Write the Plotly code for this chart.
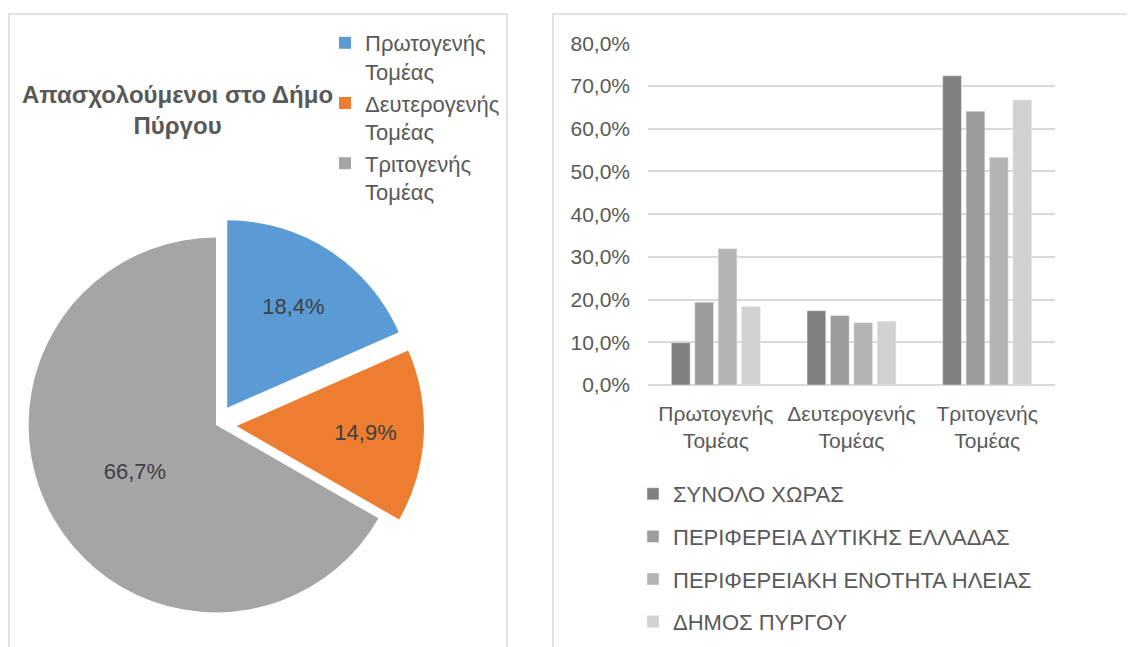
import plotly.graph_objects as go

# data
sectors = ["Πρωτογενής<br>Τομέας", "Δευτερογενής<br>Τομέας", "Τριτογενής<br>Τομέας"]
pyrgos_share = [0.184, 0.149, 0.667]
pie_colors = ["#5b9bd5", "#ed7d31", "#a5a5a5"]

series_names = ["ΣΥΝΟΛΟ ΧΩΡΑΣ", "ΠΕΡΙΦΕΡΕΙΑ ΔΥΤΙΚΗΣ ΕΛΛΑΔΑΣ",
                "ΠΕΡΙΦΕΡΕΙΑΚΗ ΕΝΟΤΗΤΑ ΗΛΕΙΑΣ", "ΔΗΜΟΣ ΠΥΡΓΟΥ"]
country = [0.099, 0.174, 0.724]
west_greece = [0.194, 0.163, 0.641]
ileia = [0.319, 0.146, 0.533]
pyrgos = [0.184, 0.149, 0.667]
bar_colors = ["#808080", "#9c9c9c", "#b4b4b4", "#d2d2d2"]

W, H = 1135, 647
txt = "#595959"
font = "Liberation Sans, Arial, sans-serif"

fig = go.Figure()

# pie: employment by sector in Pyrgos
fig.add_trace(go.Pie(
    labels=sectors,
    values=pyrgos_share,
    marker=dict(colors=pie_colors),
    sort=False,
    direction="clockwise",
    rotation=0,
    pull=[0.11, 0.11, 0],
    texttemplate="%{percent:.1%}",
    textposition="inside",
    insidetextorientation="horizontal",
    textfont=dict(size=22, color="#404040", family=font),
    domain=dict(x=[0.0, 416 / W], y=[0.0, 460 / H]),
    legend="legend",
    hoverinfo="label+percent",
))

# grouped bars: comparison with region / country
for name, vals, col in zip(series_names, [country, west_greece, ileia, pyrgos], bar_colors):
    fig.add_trace(go.Bar(
        x=sectors,
        y=vals,
        name=name,
        marker=dict(color=col),
        legend="legend2",
        legendgroup=name,
    ))

# the page body adds 8px, so everything is placed 8px up/left
fig.update_layout(
    width=W,
    height=H,
    margin=dict(l=0, r=0, t=0, b=0, autoexpand=False),
    paper_bgcolor="white",
    plot_bgcolor="white",
    separators=",.",
    font=dict(family=font, color=txt, size=21),
    barmode="group",
    bargap=0.31,
    bargroupgap=0.2,
    xaxis=dict(
        domain=[640 / W, 1047 / W],
        showgrid=False,
        showline=False,
        ticks="",
        tickfont=dict(size=21, color=txt),
        ticklabelstandoff=14,
    ),
    yaxis=dict(
        domain=[1 - 377 / H, 1 - 35.3 / H],
        range=[0, 0.8],
        dtick=0.1,
        tickformat=".1%",
        gridcolor="#d9d9d9",
        gridwidth=1.5,
        zeroline=True,
        zerolinecolor="#d9d9d9",
        zerolinewidth=1.5,
        ticks="",
        tickfont=dict(size=21, color=txt),
        ticklabelstandoff=17,
    ),
    legend=dict(
        x=317 / W, y=1 - 14 / H,
        xanchor="left", yanchor="top",
        valign="top",
        font=dict(size=22, color=txt),
        bgcolor="rgba(0,0,0,0)",
    ),
    legend2=dict(
        x=625 / W, y=1 - 465 / H,
        xanchor="left", yanchor="top",
        font=dict(size=22, color=txt),
        tracegroupgap=11,
        traceorder="grouped",
        bgcolor="rgba(0,0,0,0)",
    ),
    annotations=[dict(
        text="<b>Απασχολούμενοι στο Δήμο<br>Πύργου</b>",
        x=169 / W, y=1 - 102 / H,
        xref="paper", yref="paper",
        xanchor="center", yanchor="middle",
        showarrow=False,
        font=dict(size=24, color=txt),
        align="center",
    )],
    shapes=[
        dict(type="rect", xref="paper", yref="paper",
             x0=1 / W, x1=499 / W, y0=-0.05, y1=1 - 6 / H,
             line=dict(color="#d9d9d9", width=1.5)),
        dict(type="rect", xref="paper", yref="paper",
             x0=545 / W, x1=1.05, y0=-0.05, y1=1 - 6 / H,
             line=dict(color="#d9d9d9", width=1.5)),
    ],
)

fig.write_html("out.html")
